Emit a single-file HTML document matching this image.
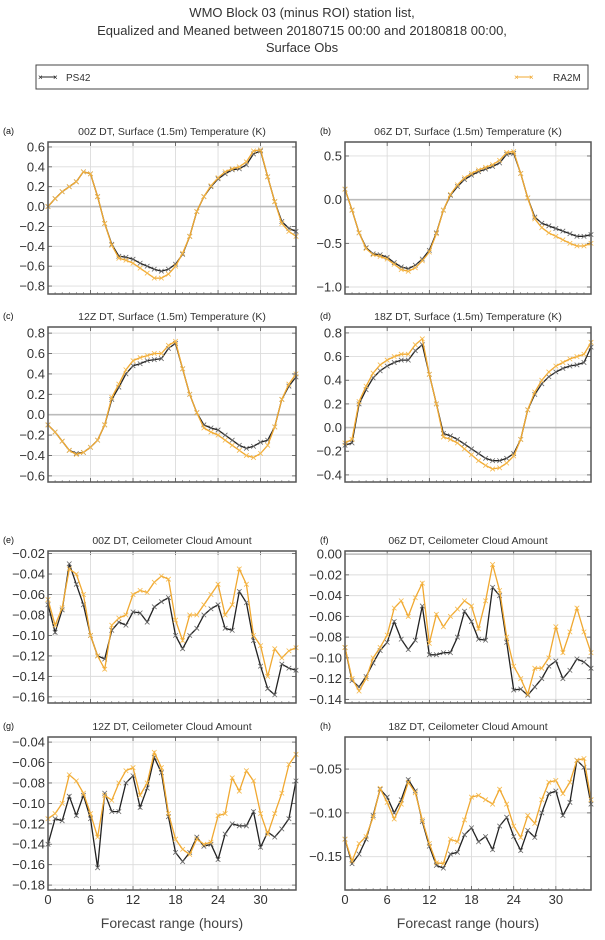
<!DOCTYPE html>
<html><head><meta charset="utf-8">
<style>
html,body{margin:0;padding:0;background:#fff;}
body{width:605px;height:935px;overflow:hidden;font-family:"Liberation Sans","DejaVu Sans",sans-serif;}
</style></head>
<body>
<svg id="fig" width="605" height="935" viewBox="0 0 605 935" xmlns="http://www.w3.org/2000/svg" font-family="Liberation Sans, DejaVu Sans, sans-serif">
<g fill="#333" font-size="13" text-anchor="middle">
<text x="302" y="17">WMO Block 03 (minus ROI) station list,</text>
<text x="302" y="35">Equalized and Meaned between 20180715 00:00 and 20180818 00:00,</text>
<text x="302" y="52">Surface Obs</text>
</g>
<g>
<rect x="36" y="65" width="552" height="24" fill="#fff" stroke="#444" stroke-width="1"/>
<g>
<line x1="40" y1="77" x2="56" y2="77" stroke="#222" stroke-width="1"/>
<text x="38" y="80" font-size="8" fill="#222">×</text><text x="53" y="80" font-size="8" fill="#222">×</text>
<text x="66" y="81" font-size="10" fill="#333">PS42</text>
</g>
<g>
<line x1="516" y1="77" x2="532" y2="77" stroke="#f0a830" stroke-width="1"/>
<text x="514" y="80" font-size="8" fill="#f0a830">×</text><text x="529" y="80" font-size="8" fill="#f0a830">×</text>
<text x="553" y="81" font-size="10" fill="#333">RA2M</text>
</g>
</g>
<g id="panels"></g>
</svg>
<script>
const hours = [0,1,2,3,4,5,6,7,8,9,10,11,12,13,14,15,16,17,18,19,20,21,22,23,24,25,26,27,28,29,30,31,32,33,34,35];
const xTicks = [0,6,12,18,24,30];

const aPS42 = [0,0.08,0.15,0.2,0.25,0.35,0.33,0.1,-0.17,-0.38,-0.5,-0.51,-0.53,-0.57,-0.6,-0.63,-0.65,-0.63,-0.58,-0.48,-0.3,-0.05,0.1,0.2,0.28,0.33,0.37,0.38,0.42,0.53,0.56,0.3,0.05,-0.15,-0.22,-0.25];
const aRA2M = [0,0.08,0.15,0.2,0.25,0.35,0.33,0.1,-0.17,-0.39,-0.52,-0.54,-0.57,-0.62,-0.67,-0.72,-0.72,-0.68,-0.6,-0.47,-0.3,-0.05,0.1,0.21,0.29,0.35,0.38,0.4,0.45,0.56,0.57,0.3,0.05,-0.17,-0.25,-0.3];
const bPS42 = [0.12,-0.12,-0.38,-0.55,-0.62,-0.63,-0.66,-0.72,-0.77,-0.79,-0.75,-0.68,-0.58,-0.38,-0.12,0.05,0.15,0.23,0.28,0.32,0.35,0.38,0.42,0.52,0.53,0.3,0.02,-0.2,-0.27,-0.3,-0.33,-0.36,-0.39,-0.42,-0.42,-0.4];
const bRA2M = [0.12,-0.12,-0.38,-0.56,-0.63,-0.65,-0.68,-0.74,-0.8,-0.82,-0.78,-0.7,-0.6,-0.39,-0.12,0.06,0.17,0.25,0.3,0.34,0.37,0.4,0.45,0.54,0.55,0.3,0.02,-0.22,-0.32,-0.38,-0.42,-0.46,-0.5,-0.53,-0.53,-0.5];
const cPS42 = [-0.1,-0.17,-0.26,-0.35,-0.38,-0.37,-0.32,-0.25,-0.1,0.15,0.27,0.4,0.48,0.5,0.53,0.54,0.55,0.65,0.7,0.45,0.2,0.02,-0.1,-0.13,-0.15,-0.2,-0.25,-0.3,-0.33,-0.31,-0.27,-0.25,-0.12,0.15,0.28,0.37];
const cRA2M = [-0.1,-0.17,-0.26,-0.35,-0.39,-0.37,-0.32,-0.25,-0.1,0.17,0.3,0.44,0.53,0.56,0.58,0.6,0.6,0.68,0.72,0.45,0.2,0.02,-0.13,-0.17,-0.2,-0.25,-0.3,-0.35,-0.4,-0.42,-0.38,-0.3,-0.12,0.15,0.3,0.4];
const dPS42 = [-0.15,-0.13,0.2,0.32,0.42,0.48,0.52,0.55,0.57,0.57,0.65,0.7,0.45,0.2,-0.05,-0.07,-0.1,-0.14,-0.18,-0.22,-0.26,-0.28,-0.28,-0.26,-0.22,-0.1,0.15,0.28,0.37,0.43,0.47,0.5,0.52,0.53,0.55,0.68];
const dRA2M = [-0.13,-0.1,0.22,0.35,0.46,0.53,0.57,0.6,0.62,0.62,0.7,0.75,0.45,0.2,-0.08,-0.1,-0.13,-0.18,-0.23,-0.28,-0.32,-0.35,-0.34,-0.3,-0.24,-0.1,0.15,0.3,0.4,0.47,0.52,0.55,0.58,0.6,0.62,0.72];
const ePS42 = [-0.07,-0.097,-0.075,-0.03,-0.05,-0.07,-0.1,-0.12,-0.123,-0.095,-0.087,-0.09,-0.077,-0.078,-0.087,-0.072,-0.067,-0.063,-0.1,-0.113,-0.1,-0.093,-0.08,-0.074,-0.07,-0.093,-0.095,-0.057,-0.068,-0.105,-0.13,-0.152,-0.158,-0.128,-0.132,-0.134];
const eRA2M = [-0.065,-0.09,-0.073,-0.035,-0.04,-0.06,-0.1,-0.12,-0.133,-0.09,-0.083,-0.08,-0.06,-0.056,-0.058,-0.048,-0.042,-0.045,-0.085,-0.105,-0.08,-0.08,-0.07,-0.06,-0.05,-0.08,-0.07,-0.035,-0.05,-0.1,-0.11,-0.14,-0.113,-0.122,-0.115,-0.112];
const fPS42 = [-0.09,-0.122,-0.128,-0.118,-0.105,-0.093,-0.085,-0.065,-0.082,-0.092,-0.083,-0.05,-0.097,-0.097,-0.095,-0.095,-0.08,-0.055,-0.065,-0.082,-0.083,-0.032,-0.04,-0.085,-0.131,-0.13,-0.136,-0.128,-0.12,-0.108,-0.103,-0.12,-0.112,-0.101,-0.104,-0.11];
const fRA2M = [-0.09,-0.12,-0.132,-0.12,-0.1,-0.09,-0.078,-0.052,-0.045,-0.06,-0.042,-0.028,-0.086,-0.058,-0.07,-0.06,-0.053,-0.045,-0.05,-0.072,-0.045,-0.01,-0.035,-0.08,-0.108,-0.12,-0.135,-0.11,-0.11,-0.1,-0.07,-0.095,-0.075,-0.052,-0.075,-0.095];
const gPS42 = [-0.14,-0.115,-0.117,-0.093,-0.112,-0.092,-0.115,-0.163,-0.09,-0.108,-0.108,-0.08,-0.073,-0.104,-0.085,-0.055,-0.07,-0.113,-0.148,-0.157,-0.148,-0.133,-0.142,-0.14,-0.155,-0.13,-0.12,-0.122,-0.122,-0.108,-0.143,-0.128,-0.133,-0.125,-0.115,-0.078];
const gRA2M = [-0.115,-0.11,-0.1,-0.072,-0.078,-0.09,-0.11,-0.133,-0.092,-0.097,-0.08,-0.068,-0.065,-0.092,-0.08,-0.05,-0.065,-0.11,-0.135,-0.145,-0.15,-0.135,-0.14,-0.138,-0.112,-0.11,-0.075,-0.088,-0.068,-0.078,-0.11,-0.13,-0.11,-0.09,-0.062,-0.052];
const hPS42 = [-0.13,-0.158,-0.147,-0.13,-0.103,-0.073,-0.082,-0.1,-0.085,-0.062,-0.075,-0.11,-0.138,-0.16,-0.163,-0.147,-0.145,-0.125,-0.117,-0.133,-0.127,-0.142,-0.115,-0.105,-0.127,-0.143,-0.12,-0.128,-0.1,-0.078,-0.075,-0.103,-0.088,-0.04,-0.048,-0.09];
const hRA2M = [-0.13,-0.155,-0.135,-0.127,-0.105,-0.072,-0.088,-0.107,-0.09,-0.065,-0.077,-0.108,-0.135,-0.157,-0.158,-0.13,-0.133,-0.108,-0.082,-0.08,-0.085,-0.09,-0.073,-0.09,-0.115,-0.128,-0.103,-0.112,-0.085,-0.065,-0.063,-0.078,-0.065,-0.04,-0.038,-0.085];

const aTicks = [-0.8,-0.6,-0.4,-0.2,0.0,0.2,0.4,0.6];
const bTicks = [-1.0,-0.5,0.0,0.5];
const cTicks = [-0.6,-0.4,-0.2,0.0,0.2,0.4,0.6,0.8];
const dTicks = [-0.4,-0.2,0.0,0.2,0.4,0.6,0.8];
const eTicks = [-0.16,-0.14,-0.12,-0.10,-0.08,-0.06,-0.04,-0.02];
const fTicks = [-0.14,-0.12,-0.10,-0.08,-0.06,-0.04,-0.02,0.00];
const gTicks = [-0.18,-0.16,-0.14,-0.12,-0.10,-0.08,-0.06,-0.04];
const hTicks = [-0.15,-0.10,-0.05];

const NS = 'http://www.w3.org/2000/svg';
const root = document.getElementById('panels');
function mk(tag, attrs, parent){
  const e = document.createElementNS(NS, tag);
  for (const k in attrs) e.setAttribute(k, attrs[k]);
  parent.appendChild(e);
  return e;
}
const panels = [
  {id:'a', label:'(a)', title:'00Z DT, Surface (1.5m) Temperature (K)', x0:48, x1:296, y0:142, y1:294, lo:-0.88, hi:0.65, ticks:aTicks, dec:1, s1:aPS42, s2:aRA2M, zero:true, xl:false},
  {id:'b', label:'(b)', title:'06Z DT, Surface (1.5m) Temperature (K)', x0:345, x1:591, y0:142, y1:294, lo:-1.08, hi:0.66, ticks:bTicks, dec:1, s1:bPS42, s2:bRA2M, zero:true, xl:false},
  {id:'c', label:'(c)', title:'12Z DT, Surface (1.5m) Temperature (K)', x0:48, x1:296, y0:327, y1:482, lo:-0.66, hi:0.86, ticks:cTicks, dec:1, s1:cPS42, s2:cRA2M, zero:true, xl:false},
  {id:'d', label:'(d)', title:'18Z DT, Surface (1.5m) Temperature (K)', x0:345, x1:591, y0:327, y1:482, lo:-0.46, hi:0.85, ticks:dTicks, dec:1, s1:dPS42, s2:dRA2M, zero:true, xl:false},
  {id:'e', label:'(e)', title:'00Z DT, Ceilometer Cloud Amount', x0:48, x1:296, y0:551, y1:703, lo:-0.166, hi:-0.0175, ticks:eTicks, dec:2, s1:ePS42, s2:eRA2M, zero:false, xl:false},
  {id:'f', label:'(f)', title:'06Z DT, Ceilometer Cloud Amount', x0:345, x1:591, y0:551, y1:703, lo:-0.1435, hi:0.003, ticks:fTicks, dec:2, s1:fPS42, s2:fRA2M, zero:true, xl:false},
  {id:'g', label:'(g)', title:'12Z DT, Ceilometer Cloud Amount', x0:48, x1:296, y0:737, y1:890, lo:-0.1848, hi:-0.035, ticks:gTicks, dec:2, s1:gPS42, s2:gRA2M, zero:false, xl:true},
  {id:'h', label:'(h)', title:'18Z DT, Ceilometer Cloud Amount', x0:345, x1:591, y0:737, y1:890, lo:-0.188, hi:-0.0134, ticks:hTicks, dec:2, s1:hPS42, s2:hRA2M, zero:false, xl:true}
];
function fmt(v, d){ const s = Math.abs(v).toFixed(d); return (v < -1e-9 ? '\u2212' : '') + s; }
panels.forEach(p => {
  const g = mk('g', {}, root);
  
  
  const xs = h => p.x0 + (h - 0) / 35 * (p.x1 - p.x0);
  const ys = v => p.y1 - (v - p.lo) / (p.hi - p.lo) * (p.y1 - p.y0);
  const lab = mk('text', {x:3, y:p.y0 - 8, 'font-size':9, fill:'#111'}, g);
  if (p.x0 > 300) lab.setAttribute('x', 320);
  lab.textContent = p.label;
  
  
  const tt = mk('text', {x:(p.x0 + p.x1)/2, y:p.y0 - 7, 'font-size':10.5, fill:'#333', 'text-anchor':'middle'}, g);
  tt.textContent = p.title;
  
  
  xTicks.forEach(t => {
    const l = mk('line', {x1:xs(t), x2:xs(t), y1:p.y0, y2:p.y1, stroke:'#dcdcdc', 'stroke-width':0.9}, g);
    
    
    mk('line', {x1:xs(t), x2:xs(t), y1:p.y1, y2:p.y1 - 4, stroke:'#555', 'stroke-width':0.8}, g);
    mk('line', {x1:xs(t), x2:xs(t), y1:p.y0, y2:p.y0 + 4, stroke:'#555', 'stroke-width':0.8}, g);
    if (p.xl) {
      const tl = mk('text', {x:xs(t), y:p.y1 + 14, 'font-size':13, fill:'#333', 'text-anchor':'middle'}, g);
      tl.textContent = t;
      
      
    }
  });
  for (let h = 0; h <= 35; h++) {
    if (h % 6 === 0) continue;
    mk('line', {x1:xs(h), x2:xs(h), y1:p.y1, y2:p.y1 - 2, stroke:'#777', 'stroke-width':0.6}, g);
  }
  p.ticks.forEach(t => {
    const l = mk('line', {x1:p.x0, x2:p.x1, y1:ys(t), y2:ys(t), stroke:'#dcdcdc', 'stroke-width':0.9}, g);
    
    
    mk('line', {x1:p.x0, x2:p.x0 + 4, y1:ys(t), y2:ys(t), stroke:'#555', 'stroke-width':0.8}, g);
    mk('line', {x1:p.x1, x2:p.x1 - 4, y1:ys(t), y2:ys(t), stroke:'#555', 'stroke-width':0.8}, g);
    const tl = mk('text', {x:p.x0 - 3, y:ys(t) + 4.5, 'font-size':13, fill:'#333', 'text-anchor':'end'}, g);
    tl.textContent = fmt(t, p.dec);
    
    
  });
  if (p.zero) {
    const z = mk('line', {x1:p.x0, x2:p.x1, y1:ys(0), y2:ys(0), stroke:'#bbb', 'stroke-width':1.6}, g);
    
    
  }
  [[p.s1, '#222', 'ps42', '#666'], [p.s2, '#f0a830', 'ra2m', '#f5b84a']].forEach(([s, col, nm, mc]) => {
    const sg = mk('g', {}, g);
    
    
    const pts = hours.map((h, i) => xs(h).toFixed(1) + ',' + ys(s[i]).toFixed(1)).join(' ');
    const pl = mk('polyline', {points:pts, fill:'none', stroke:col, 'stroke-width':1.3}, sg);
    
    
    hours.forEach((h, i) => {
      const cx = xs(h), cy = ys(s[i]), r = 2.3;
      const m = mk('path', {d:`M${cx-r},${cy-r}L${cx+r},${cy+r}M${cx-r},${cy+r}L${cx+r},${cy-r}`, stroke:mc, 'stroke-width':0.8, fill:'none'}, sg);
      
      
    });
  });
  const fr = mk('rect', {x:p.x0, y:p.y0, width:p.x1 - p.x0, height:p.y1 - p.y0, fill:'none', stroke:'#555', 'stroke-width':1.5}, g);
  
  
  if (p.xl) {
    const xl = mk('text', {x:(p.x0 + p.x1)/2, y:928, 'font-size':14, fill:'#444', 'text-anchor':'middle'}, g);
    xl.textContent = 'Forecast range (hours)';
    
    
  }
});
</script>
</body></html>
